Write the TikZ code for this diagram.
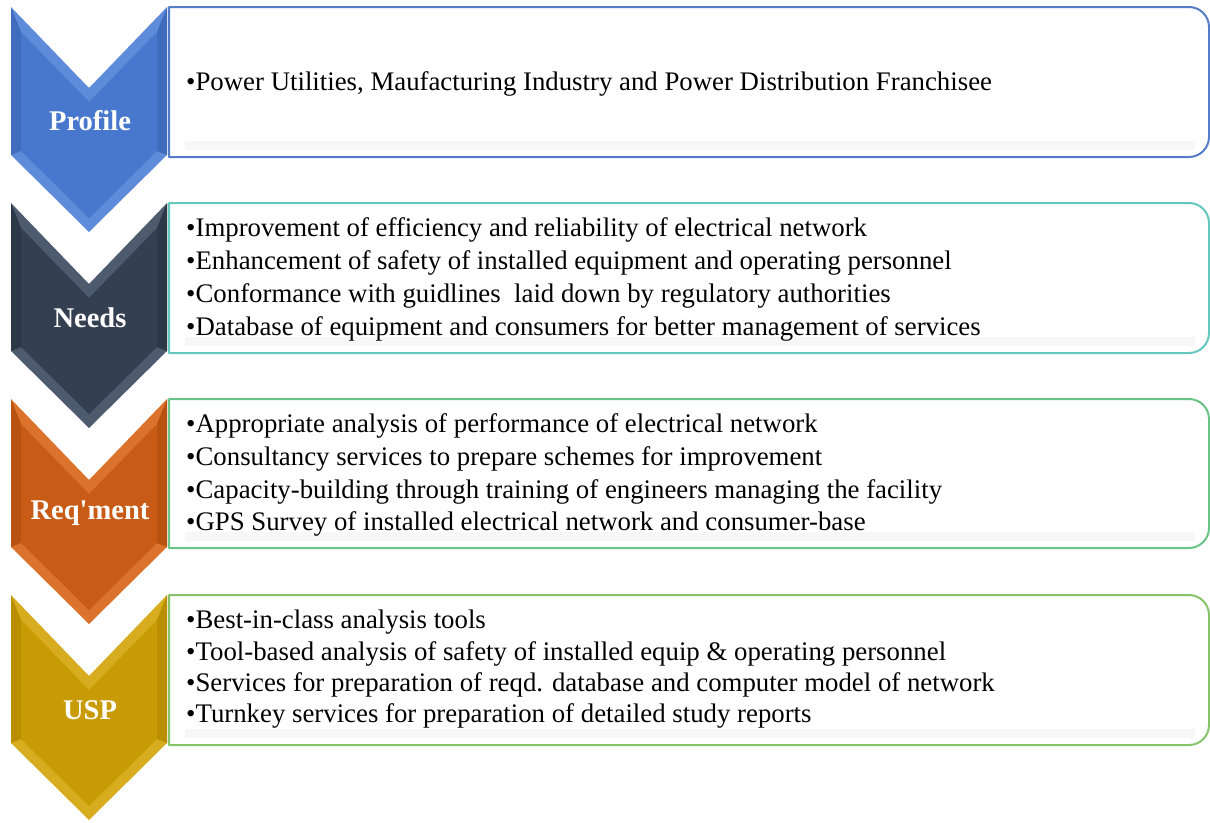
\documentclass[tikz,border=0pt]{standalone}
\usepackage{fontspec}
\setmainfont{Liberation Serif}
\newfontfamily\labfont{Liberation Serif}
\definecolor{pL}{RGB}{95,140,218}\definecolor{pM}{RGB}{72,120,205}\definecolor{pD}{RGB}{64,108,190}
\definecolor{nL}{RGB}{78,90,110}\definecolor{nM}{RGB}{52,64,82}\definecolor{nD}{RGB}{44,55,72}
\definecolor{rL}{RGB}{220,115,45}\definecolor{rM}{RGB}{200,92,22}\definecolor{rD}{RGB}{184,82,16}
\definecolor{uL}{RGB}{215,172,30}\definecolor{uM}{RGB}{200,155,4}\definecolor{uD}{RGB}{185,142,0}
\definecolor{bA}{RGB}{84,124,200}\definecolor{bB}{RGB}{100,200,190}\definecolor{bC}{RGB}{105,196,135}\definecolor{bD}{RGB}{135,196,105}
\newcommand\mychevron[4]{%
 \fill[#2] (11,-#1) -- (89,-#1-81) -- (167,-#1) -- (167,-#1-148) -- (89,-#1-225) -- (11,-#1-148) -- cycle;
 \fill[#4] (11,-#1) -- (21,-#1-25) -- (21,-#1-144) -- (11,-#1-148) -- cycle;
 \fill[#4] (167,-#1) -- (157,-#1-25) -- (157,-#1-144) -- (167,-#1-148) -- cycle;
 \fill[#3] (21,-#1-25) -- (89,-#1-95) -- (157,-#1-25) -- (157,-#1-144) -- (89,-#1-211) -- (21,-#1-144) -- cycle;
}
\newcommand\mybox[3]{% top, bottom, colour
 \fill[white] (169,-#1) -- (1189,-#1) arc[start angle=90,end angle=0,radius=20] -- (1209,-#2+20) arc[start angle=0,end angle=-90,radius=20] -- (169,-#2) -- cycle;
 \fill[gray!6] (185,-#2+16) rectangle (1195,-#2+7);
 \draw[#3,line width=2pt,line join=round] (169,-#1) -- (1189,-#1) arc[start angle=90,end angle=0,radius=20] -- (1209,-#2+20) arc[start angle=0,end angle=-90,radius=20] -- (169,-#2) -- cycle;
}
\tikzset{
 lab/.style={text=white,font=\fontsize{28.5}{30}\labfont\bfseries,inner sep=0pt},
 txt/.style={anchor=base west,inner sep=0pt,font=\fontsize{26.8}{30}\selectfont,text=black}
}
\begin{document}
\begin{tikzpicture}[x=1pt,y=1pt]
\useasboundingbox (0,0) rectangle (1210,-822);
\mybox{7}{157}{bA}
\mybox{203}{353}{bB}
\mybox{399}{548}{bC}
\mybox{595}{745}{bD}
\mychevron{7}{pL}{pM}{pD}
\mychevron{203}{nL}{nM}{nD}
\mychevron{399}{rL}{rM}{rD}
\mychevron{595}{uL}{uM}{uD}
\node[lab] (profile) at (90,-121) {Profile};
\node[lab] (needs) at (90,-318) {Needs};
\node[lab] (reqment) at (90,-513) {Req'ment};
\node[lab] (usp) at (90,-710) {USP};
\node[txt] (a1) at (186,-90) {•Power Utilities, Maufacturing Industry and Power Distribution Franchisee};
\node[txt] (b1) at (186,-236) {•Improvement of efficiency and reliability of electrical network};
\node[txt] (b2) at (186,-269) {•Enhancement of safety of installed equipment and operating personnel};
\node[txt] (b3) at (186,-302) {•Conformance with guidlines~ laid down by regulatory authorities};
\node[txt] (b4) at (186,-335) {•Database of equipment and consumers for better management of services};
\node[txt] (c1) at (186,-432) {•Appropriate analysis of performance of electrical network};
\node[txt] (c2) at (186,-465) {•Consultancy services to prepare schemes for improvement};
\node[txt] (c3) at (186,-498) {•Capacity-building through training of engineers managing the facility};
\node[txt] (c4) at (186,-530) {•GPS Survey of installed electrical network and consumer-base};
\node[txt] (d1) at (186,-628) {•Best-in-class analysis tools};
\node[txt] (d2) at (186,-660) {•Tool-based analysis of safety of installed equip \& operating personnel};
\node[txt] (d3) at (186,-691) {•Services for preparation of reqd. database and computer model of network};
\node[txt] (d4) at (186,-722) {•Turnkey services for preparation of detailed study reports};
\end{tikzpicture}
\end{document}
